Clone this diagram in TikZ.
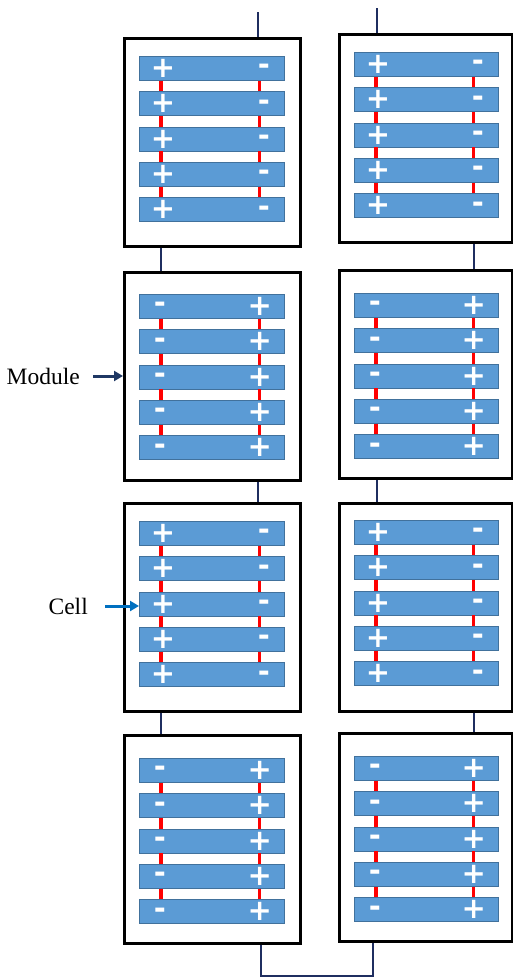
\documentclass[tikz,border=0pt]{standalone}
\usepackage{fontspec}
\setmainfont{Liberation Serif}
\newfontfamily\signfont{DejaVu Sans}
\usetikzlibrary{arrows.meta,calc}
\definecolor{cellblue}{HTML}{5B9BD5}
\definecolor{celledge}{HTML}{41719C}
\definecolor{wirecol}{HTML}{1F2E60}
\definecolor{modarrow}{HTML}{1F3864}
\definecolor{cellarrow}{HTML}{0070C0}
\definecolor{linkred}{HTML}{FF0000}
\tikzset{
  modbox/.style={draw=black, line width=2.5pt, fill=white, rectangle, inner sep=0pt, anchor=north west,
                 minimum width=#1, minimum height=208pt},
  cellbox/.style={draw=celledge, line width=0.8pt, fill=cellblue, rectangle, inner sep=0pt, anchor=north west,
                 minimum width=#1, minimum height=24pt},
  signtext/.style={text=white, inner sep=0pt, anchor=base, font=\signfont\bfseries\fontsize{29}{29}\selectfont},
  linkline/.style={draw=linkred, line width=3.2pt},
  wireline/.style={draw=wirecol, line width=2pt},
  labeltext/.style={font=\fontsize{23.5}{26}\selectfont, inner sep=0pt, text=black},
}
\def\polP{P}
% #1 name, #2 x, #3 y, #4 module width, #5 first cell offset, #6 polarity, #7 cell width
\newcommand\drawmodule[7]{%
  \node[modbox=#4] (#1) at (#2,#3) {};
  \def\pol{#6}%
  \foreach \i in {1,...,5}{%
    \node[cellbox=#7] (#1c\i) at ({#2+16},{#3+#5+(\i-1)*35.3}) {};
    \ifx\pol\polP
      \node[signtext] (#1l\i) at ($(#1c\i.west)+(24,9.0)$) {+};
      \node[signtext] (#1r\i) at ($(#1c\i.east)+(-21,6.5)$) {-};
    \else
      \node[signtext] (#1l\i) at ($(#1c\i.west)+(21,6.5)$) {-};
      \node[signtext] (#1r\i) at ($(#1c\i.east)+(-25,9.0)$) {+};
    \fi
  }%
  \foreach \i/\j in {1/2,2/3,3/4,4/5}{%
    \draw[linkline] ($(#1c\i.south west)+(22,0)$) -- ($(#1c\j.north west)+(22,0)$);
    \draw[linkline] ($(#1c\i.south east)+(-25,0)$) -- ($(#1c\j.north east)+(-25,0)$);
  }%
}
\begin{document}
\begin{tikzpicture}[x=1pt,y=-1pt]
\useasboundingbox (0,0) rectangle (513,978);
% left column
\drawmodule{L1}{123}{37}{176}{19}{P}{145}
\drawmodule{L2}{123}{271}{176}{23}{M}{145}
\drawmodule{L3}{123}{502}{176}{19}{P}{145}
\drawmodule{L4}{123}{734}{176}{24}{M}{145}
% right column
\drawmodule{R1}{338}{33}{173}{19}{P}{144}
\drawmodule{R2}{338}{269}{173}{24}{M}{144}
\drawmodule{R3}{338}{502}{173}{18}{P}{144}
\drawmodule{R4}{338}{732}{173}{24}{M}{144}
% wires
\coordinate (topL) at (258,12);
\coordinate (topR) at (377,8);
\coordinate (bot) at (300,976);
\draw[wireline] (topL) -- (topL |- L1.north);
\draw[wireline] ($(L1.south west)+(38,0)$) -- ($(L2.north west)+(38,0)$);
\draw[wireline] ($(L2.south west)+(135,0)$) -- ($(L3.north west)+(135,0)$);
\draw[wireline] ($(L3.south west)+(38,0)$) -- ($(L4.north west)+(38,0)$);
\draw[wireline] ($(L4.south west)+(138,0)$) |- (bot) -| ($(R4.south west)+(35,0)$);
\draw[wireline] ($(R4.north west)+(136,0)$) -- ($(R3.south west)+(136,0)$);
\draw[wireline] ($(R3.north west)+(39,0)$) -- ($(R2.south west)+(39,0)$);
\draw[wireline] ($(R2.north west)+(136,0)$) -- ($(R1.south west)+(136,0)$);
\draw[wireline] (topR) -- (topR |- R1.north);
% labels
\node[labeltext, anchor=east] (modlabel) at (80,376) {Module};
\draw[draw=modarrow, line width=3pt, -{Triangle[length=9pt,width=10pt]}] (modlabel.east) ++(13,0) coordinate (ma) (ma) -- (ma -| L2.west);
\node[labeltext, anchor=east] (celllabel) at (88,606) {Cell};
\draw[draw=cellarrow, line width=3pt, -{Triangle[length=9pt,width=10pt]}] (celllabel.east) ++(17,0) coordinate (ca) (ca) -- (ca -| L3c3.west);
\end{tikzpicture}
\end{document}
